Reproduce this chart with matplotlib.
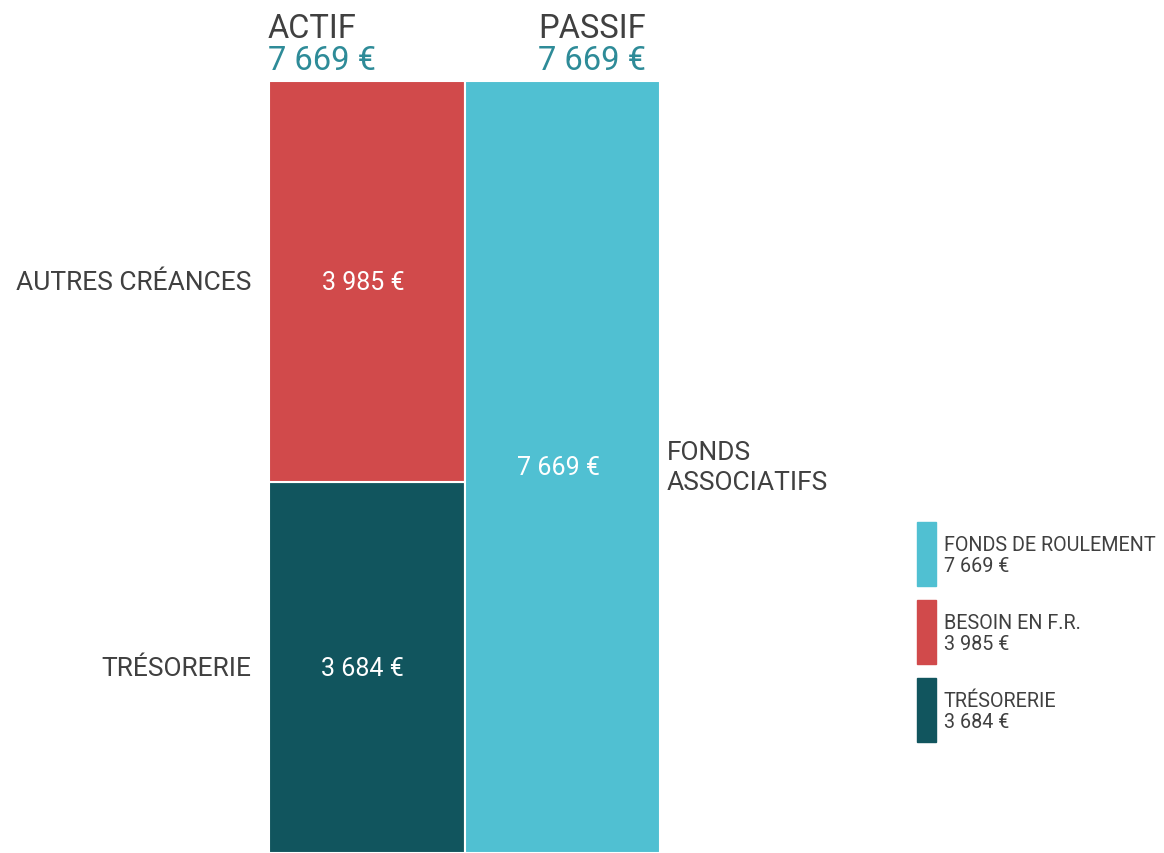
import matplotlib
matplotlib.use("Agg")
import matplotlib.pyplot as plt
from matplotlib.patches import Rectangle

plt.rcParams['font.family'] = ['Roboto', 'DejaVu Sans']

actif_labels = ["TRÉSORERIE", "AUTRES CRÉANCES"]
actif_values = [3684, 3985]
actif_colors = ["#11555E", "#D14A4B"]

passif_labels = ["FONDS\nASSOCIATIFS"]
passif_values = [7669]
passif_colors = ["#50C0D2"]

legend_names = ["FONDS DE ROULEMENT", "BESOIN EN F.R.", "TRÉSORERIE"]
legend_values = [7669, 3985, 3684]
legend_colors = ["#50C0D2", "#D14A4B", "#11555E"]

TEXT = "#404040"
TEAL = "#2E8B98"


def euro(v):
    return f"{v:,}".replace(",", " ") + " €"


W, H = 1164, 854
fig = plt.figure(figsize=(W / 100, H / 100), dpi=100)
ax = fig.add_axes([269 / W, 0, (660 - 269) / W, (854 - 82) / H])

total = sum(actif_values)

# actif column
bottom = 0
for lab, v, c in zip(actif_labels, actif_values, actif_colors):
    ax.bar(0.5, v, width=1, bottom=bottom, color=c, edgecolor="white", linewidth=1.5)
    ax.text(0.48, bottom + v / 2, euro(v), color="white", ha="center", va="center", fontsize=18)
    ax.text(-0.09, bottom + v / 2, lab, color=TEXT, ha="right", va="center", fontsize=19)
    bottom += v

# passif column
bottom = 0
for lab, v, c in zip(passif_labels, passif_values, passif_colors):
    ax.bar(1.5, v, width=1, bottom=bottom, color=c, edgecolor="white", linewidth=1.5)
    ax.text(1.48, bottom + v / 2, euro(v), color="white", ha="center", va="center", fontsize=18)
    ax.text(2.035, bottom + v / 2, lab, color=TEXT, ha="left", va="center", fontsize=19,
            linespacing=1.35)
    bottom += v

ax.set_xlim(0, 2)
ax.set_ylim(0, total)
ax.axis("off")

# column headers
fig.text(268 / W, 1 - 38 / H, "ACTIF", color=TEXT, fontsize=23.5, ha="left", va="baseline")
fig.text(268 / W, 1 - 70 / H, euro(sum(actif_values)), color=TEAL, fontsize=23.5, ha="left", va="baseline")
fig.text(646 / W, 1 - 38 / H, "PASSIF", color=TEXT, fontsize=23.5, ha="right", va="baseline")
fig.text(646 / W, 1 - 70 / H, euro(sum(passif_values)), color=TEAL, fontsize=23.5, ha="right", va="baseline")

# legend
for i, (name, v, c) in enumerate(zip(legend_names, legend_values, legend_colors)):
    top = 523 + i * 78
    fig.patches.append(Rectangle((917 / W, 1 - (top + 64) / H), 19 / W, 64 / H,
                                 transform=fig.transFigure, color=c))
    fig.text(944 / W, 1 - (top + 28) / H, name, color=TEXT, fontsize=14.2, ha="left", va="baseline")
    fig.text(944 / W, 1 - (top + 49) / H, euro(v), color=TEXT, fontsize=14.2, ha="left", va="baseline")

fig.savefig("out.png", dpi=100)
